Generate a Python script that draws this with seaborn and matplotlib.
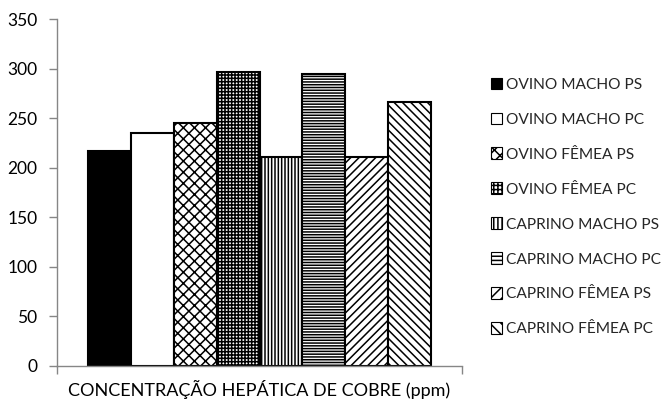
import matplotlib
matplotlib.use("Agg")
import matplotlib.pyplot as plt
import matplotlib.patches as mpatches
import seaborn as sns
import pandas as pd

category = "CONCENTRAÇÃO HEPÁTICA DE COBRE (ppm)"
groups = ["OVINO MACHO PS", "OVINO MACHO PC", "OVINO FÊMEA PS", "OVINO FÊMEA PC",
          "CAPRINO MACHO PS", "CAPRINO MACHO PC", "CAPRINO FÊMEA PS", "CAPRINO FÊMEA PC"]
values = [217, 235, 245, 297, 211, 295, 211, 266]
yticks = [0, 50, 100, 150, 200, 250, 300, 350]

faces = ["black", "white", "white", "white", "white", "white", "white", "white"]
hatches = [None, None, "xxx", "+++++", "|||||", "------", "////", "\\\\\\\\"]
leg_hatches = [None, None, "xxx", "++++", "||||", "----", "///", "\\\\\\"]

sns.set_theme(style="white")
plt.rcParams["font.family"] = ["Lato", "DejaVu Sans"]
plt.rcParams["hatch.linewidth"] = 1.1

df = pd.DataFrame({"cat": [category] * len(groups), "grupo": groups, "valor": values})

fig = plt.figure(figsize=(6.72, 4.01), dpi=100)
ax = fig.add_axes([57 / 672, 1 - 366 / 401, (462 - 57) / 672, (366 - 19) / 401])
sns.barplot(data=df, x="cat", y="valor", hue="grupo", hue_order=groups,
            width=0.845, ax=ax, legend=False, errorbar=None)

handles = []
for p, fc, h, lh, g in zip(ax.patches, faces, hatches, leg_hatches, groups):
    p.set_facecolor(fc)
    p.set_edgecolor("black")
    p.set_linewidth(1.5)
    if h:
        p.set_hatch(h)
    handles.append(mpatches.Patch(facecolor=fc, edgecolor="black", linewidth=0.8,
                                  hatch=lh, label=g))

ax.set_xlim(-0.5, 0.5)
ax.set_ylim(0, 350)
ax.set_yticks(yticks)
ax.set_xlabel("")
ax.set_ylabel("")
for s in ["top", "right"]:
    ax.spines[s].set_visible(False)
for s in ["left", "bottom"]:
    ax.spines[s].set_color("#868686")
    ax.spines[s].set_linewidth(1.0)
ax.tick_params(axis="y", which="major", direction="out", length=6, width=1,
               color="#868686", labelsize=12.5, pad=8, left=True)
ax.tick_params(axis="x", which="major", length=0, labelsize=13, pad=10)
ax.set_xticks([-0.5, 0.5], minor=True)
ax.tick_params(axis="x", which="minor", direction="out", length=6, width=1,
               color="#868686", bottom=True)
for t in ax.get_yticklabels() + ax.get_xticklabels():
    t.set_color("black")

fig.legend(handles=handles, loc="center left", bbox_to_anchor=(483 / 672, 1 - 207 / 401),
           frameon=False, fontsize=11.2, handlelength=0.75, handleheight=0.75,
           handletextpad=0.25, labelspacing=1.34, borderpad=0)

fig.savefig("out.png", dpi=100)
